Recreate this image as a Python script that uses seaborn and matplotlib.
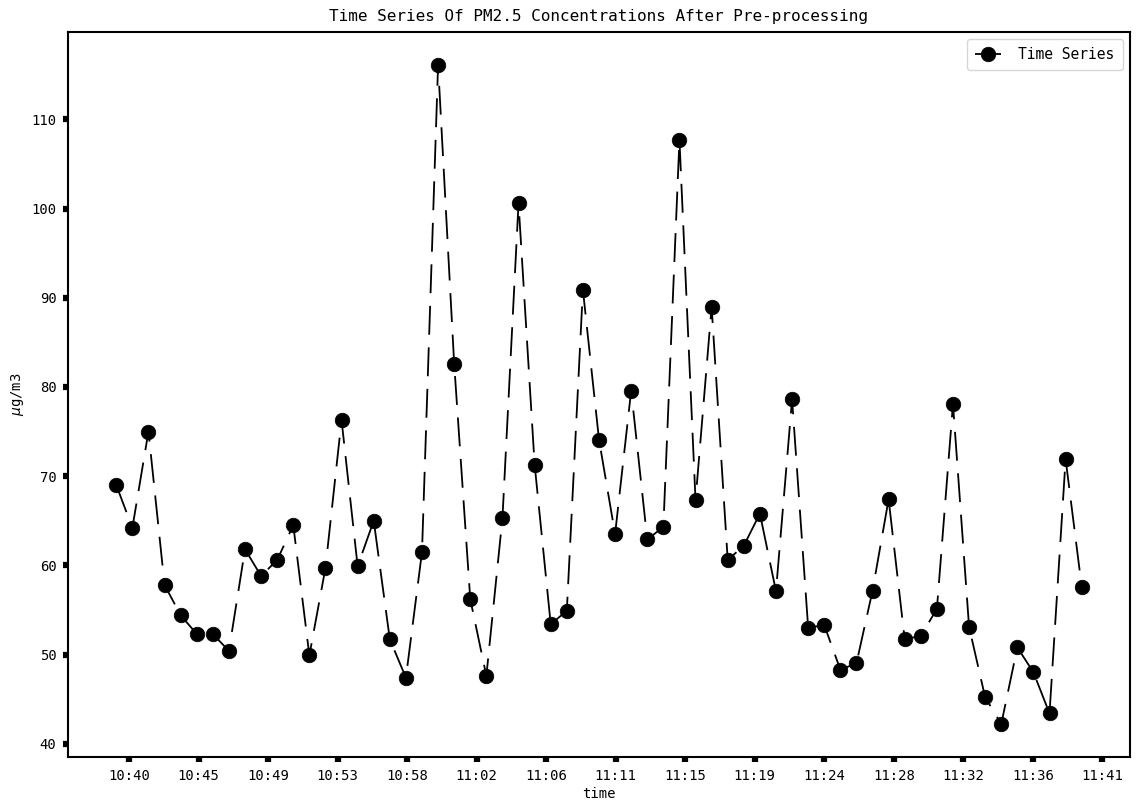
import matplotlib
matplotlib.use("Agg")
import matplotlib.pyplot as plt
import matplotlib.dates as mdates
import seaborn as sns
import pandas as pd

# ---- data ----
start_time = "2021-01-01 10:40:00"
pm25 = [69.0, 64.2, 75.0, 57.8, 54.4, 52.3, 52.3, 50.4, 61.8, 58.8,
        60.6, 64.5, 49.9, 59.7, 76.3, 59.9, 65.0, 51.7, 47.4, 61.5,
        116.1, 82.6, 56.2, 47.6, 65.3, 100.6, 71.3, 53.4, 54.9, 90.9,
        74.1, 63.5, 79.6, 62.9, 64.3, 107.7, 67.3, 89.0, 60.6, 62.2,
        65.8, 57.1, 78.6, 53.0, 53.3, 48.3, 49.0, 57.15, 67.4, 51.7,
        52.1, 55.1, 78.1, 53.1, 45.2, 42.2, 50.8, 48.0, 43.4, 71.9,
        57.6]
tick_start = "2021-01-01 10:40:48"
tick_step_seconds = 259.2
n_ticks = 15

times = pd.date_range(start_time, periods=len(pm25), freq="1min")
tick_times = pd.date_range(tick_start, periods=n_ticks,
                           freq=pd.Timedelta(seconds=tick_step_seconds))
df = pd.DataFrame({"time": times, "pm25": pm25})

sns.set_style("ticks")
plt.rcParams["font.family"] = ["DejaVu Sans Mono", "DejaVu Sans"]
plt.rcParams["text.color"] = "black"
plt.rcParams["axes.labelcolor"] = "black"
plt.rcParams["xtick.color"] = "black"
plt.rcParams["ytick.color"] = "black"

fig, ax = plt.subplots(figsize=(11.43, 8.05), dpi=100)
fig.subplots_adjust(left=0.0595, right=0.9886, top=0.9602, bottom=0.0596)

sns.lineplot(data=df, x="time", y="pm25", ax=ax, color="black",
             marker="o", markersize=10.5, markeredgecolor="black",
             markeredgewidth=0.5, linewidth=1.3,
             linestyle=(0, (16, 7)), label="Time Series")

ax.set_xticks(mdates.date2num(tick_times.to_pydatetime()))
ax.xaxis.set_major_formatter(mdates.DateFormatter("%H:%M"))

ax.set_title("Time Series Of PM2.5 Concentrations After Pre-processing",
             fontsize=11.5, color="black", pad=8)
ax.set_xlabel("time", fontsize=10, labelpad=3)
ax.set_ylabel(r"$\mu$g/m3", fontsize=10)

for sp in ax.spines.values():
    sp.set_visible(True)
    sp.set_linewidth(1.5)
    sp.set_color("black")
ax.tick_params(axis="both", direction="out", length=3.8, width=4.5,
               labelsize=10, pad=4.5, colors="black")

ax.legend(loc="upper right", fontsize=10.5, borderpad=0.55,
          handlelength=1.8, handletextpad=1.2)

fig.savefig("out.png", dpi=100)
